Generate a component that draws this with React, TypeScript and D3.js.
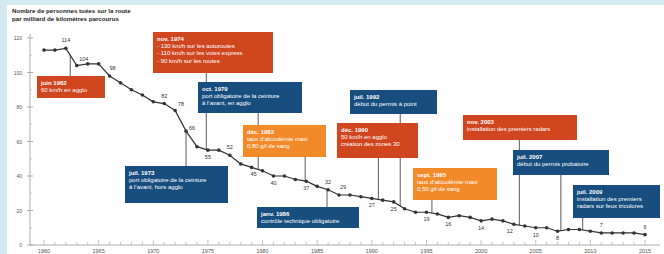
import * as d3 from 'd3';

// Nombre de personnes tuées sur la route par milliard de km parcourus
const years = [
  1960, 1961, 1962, 1963, 1964, 1965, 1966, 1967, 1968, 1969,
  1970, 1971, 1972, 1973, 1974, 1975, 1976, 1977, 1978, 1979,
  1980, 1981, 1982, 1983, 1984, 1985, 1986, 1987, 1988, 1989,
  1990, 1991, 1992, 1993, 1994, 1995, 1996, 1997, 1998, 1999,
  2000, 2001, 2002, 2003, 2004, 2005, 2006, 2007, 2008, 2009,
  2010, 2011, 2012, 2013, 2014, 2015,
];
const tues = [
  113, 113, 114, 104, 105, 105, 98, 94, 90, 87,
  83, 82, 78, 66, 57, 55, 55, 52, 47, 45,
  43, 40, 40, 38, 37, 34, 32, 29, 29, 28,
  27, 26, 25, 21, 19, 19, 18, 16, 17, 16,
  14, 15, 14, 12, 11, 10, 10, 8, 9, 9,
  8, 7, 7, 7, 7, 6,
];
const labelledYears = [1962, 1963, 1966, 1971, 1972, 1973, 1975, 1977, 1979, 1981, 1984, 1986, 1987, 1990, 1992, 1995, 1997, 2000, 2003, 2005, 2007, 2011, 2015];
const yTicks = [0, 20, 40, 60, 80, 100, 120];
const xTickLabels = [1960, 1965, 1970, 1975, 1980, 1985, 1990, 1995, 2000, 2005, 2010, 2015];

// mesures : date (année décimale), type, texte
const mesureDates = [1962.4, 1974.85, 1973.0, 1979.6, 1983.9, 1985.9, 1990.6, 1992.6, 1995.5, 2003.5, 2007.3, 2009.3];
const mesureTypes = ['vitesse', 'vitesse', 'ceinture', 'ceinture', 'alcool', 'ceinture', 'vitesse', 'ceinture', 'alcool', 'vitesse', 'ceinture', 'ceinture'];
const mesureTitres = ['juin 1962', 'nov. 1974', 'juil. 1973', 'oct. 1979', 'déc. 1983', 'janv. 1986', 'déc. 1990', 'juil. 1992', 'sept. 1995', 'nov. 2003', 'juil. 2007', 'juil. 2009'];
const mesureTextes = [
  ['60 km/h en agglo'],
  ['- 130 km/h sur les autoroutes', '- 110 km/h sur les voies express', '- 90 km/h sur les routes'],
  ['port obligatoire de la ceinture', 'à l’avant, hors agglo'],
  ['port obligatoire de la ceinture', 'à l’avant, en agglo'],
  ['taux d’alcoolémie maxi', '0,80 g/l de sang'],
  ['contrôle technique obligatoire'],
  ['50 km/h en agglo', 'création des zones 30'],
  ['début du permis à point'],
  ['taux d’alcoolémie maxi', '0,50 g/l de sang'],
  ['installation des premiers radars'],
  ['début du permis probatoire'],
  ['installation des premiers', 'radars sur feux tricolores'],
];

// layout of the boxes (x, y, w, h) and label placement
const boxes = [
  [37, 76, 68, 22], [153, 32, 120, 41], [125, 166, 103, 37], [198, 82, 104, 31],
  [243, 125, 83, 32], [257, 207, 102, 21], [337, 123, 81, 35], [350, 90, 87, 24],
  [413, 168, 84, 32], [463, 115, 114, 25], [513, 150, 96, 25], [573, 185, 87, 33],
];
const labelPos: Record<number, [number, number]> = {
  1962: [0, -6], 1963: [7, -5], 1966: [3, -6], 1971: [0, -6], 1972: [6, -4], 1973: [6, -1],
  1975: [0, 9], 1977: [0, -6], 1979: [2, 9], 1981: [0, 9], 1984: [0, 9], 1986: [0, -6],
  1987: [4, -6], 1990: [0, 9], 1992: [0, 9], 1995: [0, 9], 1997: [0, 9], 2000: [0, 9],
  2003: [-4, 9], 2005: [0, 9], 2007: [0, 9], 2011: [0, -6], 2015: [0, -6],
};
const colors: Record<string, string> = { vitesse: '#d0461f', ceinture: '#184d80', alcool: '#f28a2a' };

const W = 664;
const H = 254;
const font = 'Liberation Sans, Arial, sans-serif';

export default function App() {
  const x = d3.scaleLinear().domain([1960, 2015]).range([44, 645]);
  const y = d3.scaleLinear().domain([0, 120]).range([245, 38]);
  const pts = years.map((yr, i) => ({ yr, v: tues[i] }));
  const line = d3.line<{ yr: number; v: number }>().x(d => x(d.yr)).y(d => y(d.v));
  const valueAt = (t: number) => {
    const i = Math.max(0, Math.min(years.length - 2, Math.floor(t - 1960)));
    const f = t - years[i];
    return tues[i] + (tues[i + 1] - tues[i]) * f;
  };
  const allYears = d3.range(1960, 2016);

  return (
    <div style={{ position: 'absolute', left: 0, top: 0 }}>
      <svg width={W} height={H} style={{ display: 'block', fontFamily: font }}>
        <rect width={W} height={H} fill="#d3eaf2" />
        <rect x={7} y={5} width={W - 7} height={H - 5} fill="#ffffff" />
        <text x={12} y={13} fontSize={6.2} fontWeight="bold" fill="#222">Nombre de personnes tuées sur la route</text>
        <text x={12} y={21} fontSize={6.2} fontWeight="bold" fill="#222">par milliard de kilomètres parcourus</text>

        {/* axe Y */}
        <line x1={30} x2={30} y1={34} y2={245} stroke="#999" strokeWidth={0.8} />
        {yTicks.map(t => (
          <g key={t}>
            <line x1={27} x2={33} y1={y(t)} y2={y(t)} stroke="#999" strokeWidth={0.8} />
            <text x={22} y={y(t) + 2} fontSize={5} textAnchor="end" fill="#555">{t}</text>
          </g>
        ))}
        {yTicks.slice(0, -1).map(t => (
          <line key={'m' + t} x1={30} x2={32} y1={y(t + 10)} y2={y(t + 10)} stroke="#aaa" strokeWidth={0.6} />
        ))}

        {/* axe X */}
        <line x1={30} x2={660} y1={245} y2={245} stroke="#999" strokeWidth={0.8} />
        {allYears.map(yr => (
          <line key={yr} x1={x(yr)} x2={x(yr)} y1={yr % 5 === 0 ? 240 : 242} y2={245} stroke="#aaa" strokeWidth={0.7} />
        ))}
        {xTickLabels.map(yr => (
          <text key={yr} x={x(yr)} y={253} fontSize={5.5} textAnchor="middle" fill="#555">{yr}</text>
        ))}

        {/* tiges des mesures */}
        {mesureDates.map((d, i) => {
          const [, by, , bh] = boxes[i];
          const yc = y(valueAt(d));
          const y0 = by > yc ? by : by + bh;
          return <line key={'s' + i} x1={x(d)} x2={x(d)} y1={y0} y2={yc} stroke="#5a5a5a" strokeWidth={1} />;
        })}

        {/* courbe */}
        <path d={line(pts) ?? ''} fill="none" stroke="#333" strokeWidth={1.2} />
        {pts.map(p => (
          <circle key={p.yr} cx={x(p.yr)} cy={y(p.v)} r={1.8} fill="#333" />
        ))}
        {labelledYears.map(yr => {
          const v = tues[years.indexOf(yr)];
          const [dx, dy] = labelPos[yr];
          return (
            <text key={'l' + yr} x={x(yr) + dx} y={y(v) + dy} fontSize={5.5} textAnchor="middle" fill="#333">{v}</text>
          );
        })}

        {/* encadrés */}
        {mesureTitres.map((t, i) => {
          const [bx, by, bw, bh] = boxes[i];
          return (
            <g key={'b' + i}>
              <rect x={bx} y={by} width={bw} height={bh} fill={colors[mesureTypes[i]]} />
              <text x={bx + 4} y={by + 8.5} fontSize={6} fontWeight="bold" fill="#fff">{t}</text>
              {mesureTextes[i].map((l, j) => (
                <text key={j} x={bx + 4} y={by + 15.5 + j * 7.5} fontSize={6} fill="#fff">{l}</text>
              ))}
            </g>
          );
        })}
      </svg>
    </div>
  );
}
